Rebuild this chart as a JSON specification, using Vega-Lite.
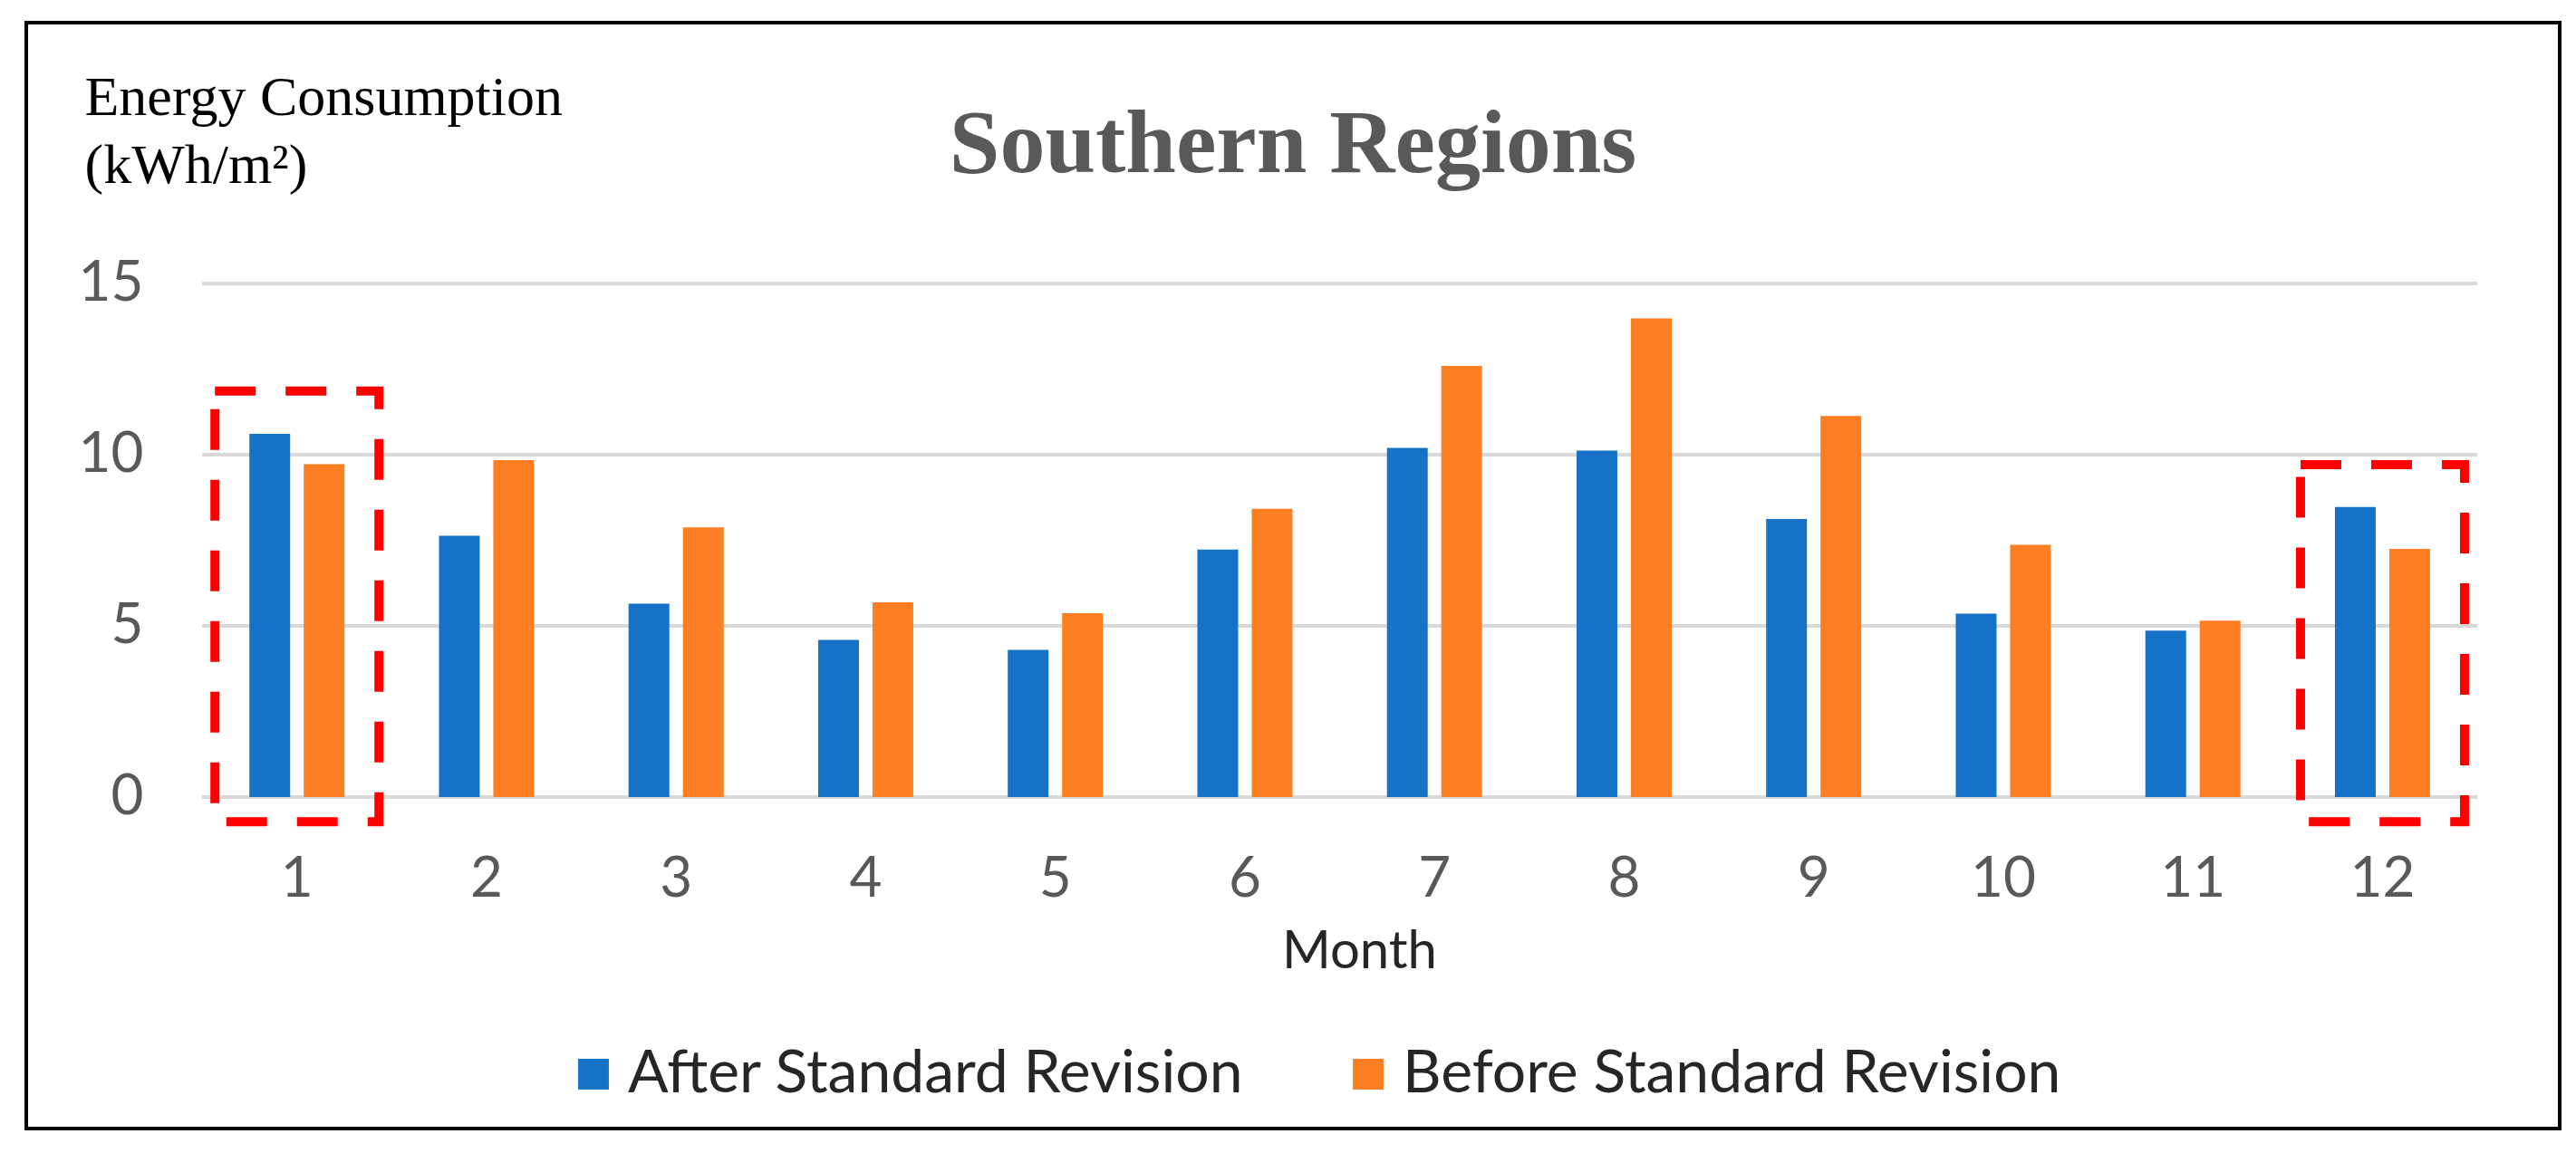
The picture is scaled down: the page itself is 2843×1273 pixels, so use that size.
{
  "$schema": "https://vega.github.io/schema/vega-lite/v6.json",
  "width": 2796,
  "height": 1221,
  "autosize": {"type": "none"},
  "padding": {"left": 29, "top": 25, "right": 18, "bottom": 27},
  "background": "white",
  "config": {"view": {"stroke": "#000000", "strokeWidth": 4, "fill": "white"}},
  "title": {
    "text": "Southern Regions",
    "font": "Liberation Serif",
    "fontSize": 100,
    "fontWeight": "bold",
    "color": "#595959",
    "anchor": "middle",
    "frame": "group",
    "baseline": "alphabetic",
    "offset": -265
  },
  "datasets": {
    "bars": [
      {"month": 1, "series": "After Standard Revision", "value": 10.61},
      {"month": 1, "series": "Before Standard Revision", "value": 9.72},
      {"month": 2, "series": "After Standard Revision", "value": 7.63},
      {"month": 2, "series": "Before Standard Revision", "value": 9.84},
      {"month": 3, "series": "After Standard Revision", "value": 5.65},
      {"month": 3, "series": "Before Standard Revision", "value": 7.88},
      {"month": 4, "series": "After Standard Revision", "value": 4.59},
      {"month": 4, "series": "Before Standard Revision", "value": 5.69},
      {"month": 5, "series": "After Standard Revision", "value": 4.3},
      {"month": 5, "series": "Before Standard Revision", "value": 5.37},
      {"month": 6, "series": "After Standard Revision", "value": 7.23},
      {"month": 6, "series": "Before Standard Revision", "value": 8.42},
      {"month": 7, "series": "After Standard Revision", "value": 10.2},
      {"month": 7, "series": "Before Standard Revision", "value": 12.59},
      {"month": 8, "series": "After Standard Revision", "value": 10.12},
      {"month": 8, "series": "Before Standard Revision", "value": 13.98},
      {"month": 9, "series": "After Standard Revision", "value": 8.12},
      {"month": 9, "series": "Before Standard Revision", "value": 11.13},
      {"month": 10, "series": "After Standard Revision", "value": 5.36},
      {"month": 10, "series": "Before Standard Revision", "value": 7.37},
      {"month": 11, "series": "After Standard Revision", "value": 4.86},
      {"month": 11, "series": "Before Standard Revision", "value": 5.15},
      {"month": 12, "series": "After Standard Revision", "value": 8.47},
      {"month": 12, "series": "Before Standard Revision", "value": 7.25}
    ],
    "grid": [
      {"v": 0, "from": 1, "to": 12},
      {"v": 5, "from": 1, "to": 12},
      {"v": 10, "from": 1, "to": 12},
      {"v": 15, "from": 1, "to": 12}
    ],
    "boxes": [
      {"month": 1, "top": 11.86, "bottom": -0.72},
      {"month": 12, "top": 9.71, "bottom": -0.72}
    ]
  },
  "layer": [
    {
      "data": {"name": "grid"},
      "mark": {"type": "rule", "color": "#D9D9D9", "strokeWidth": 4},
      "encoding": {
        "x": {"field": "from", "type": "ordinal", "bandPosition": 0},
        "x2": {"field": "to", "bandPosition": 1},
        "y": {"field": "v", "type": "quantitative"}
      }
    },
    {
      "data": {"name": "bars"},
      "mark": {"type": "bar"},
      "encoding": {
        "x": {
          "field": "month",
          "type": "ordinal",
          "scale": {"paddingInner": 0, "paddingOuter": 0.681, "align": 0.681},
          "axis": {
            "offset": -366,
            "domain": false,
            "ticks": false,
            "tickSize": 0,
            "grid": false,
            "labelAngle": 0,
            "labelAlign": "center",
            "labelBaseline": "middle",
            "labelPadding": 90,
            "labelFont": "Lato",
            "labelFontSize": 62,
            "labelColor": "#595959",
            "title": "Month",
            "titleFont": "Lato",
            "titleFontSize": 58,
            "titleFontWeight": "normal",
            "titleColor": "#262626",
            "titleAlign": "center",
            "titleBaseline": "alphabetic",
            "titleX": 1471,
            "titleY": 188
          }
        },
        "xOffset": {
          "field": "series",
          "type": "nominal",
          "sort": ["After Standard Revision", "Before Standard Revision"],
          "scale": {"paddingInner": 0.25, "paddingOuter": 0.869}
        },
        "y": {
          "field": "value",
          "type": "quantitative",
          "scale": {"domain": [-9.683, 22.619], "nice": false, "zero": false},
          "axis": {
            "values": [0, 5, 10, 15],
            "offset": -194,
            "domain": false,
            "ticks": false,
            "tickSize": 0,
            "grid": false,
            "labelPadding": 65,
            "labelFont": "Lato",
            "labelFontSize": 62,
            "labelColor": "#595959",
            "title": ["Energy Consumption", "(kWh/m²)"],
            "titleFont": "Liberation Serif",
            "titleFontSize": 62,
            "titleFontWeight": "normal",
            "titleColor": "#000000",
            "titleAngle": 0,
            "titleAlign": "left",
            "titleBaseline": "top",
            "titleX": -130,
            "titleY": 52,
            "titleLineHeight": 75
          }
        },
        "y2": {"datum": 0},
        "color": {
          "field": "series",
          "type": "nominal",
          "scale": {
            "domain": ["After Standard Revision", "Before Standard Revision"],
            "range": ["#1572C8", "#FE7F23"]
          },
          "legend": {
            "orient": "none",
            "legendX": 593,
            "legendY": 1128,
            "direction": "horizontal",
            "title": null,
            "symbolType": "square",
            "symbolSize": 1150,
            "symbolStrokeWidth": 0,
            "labelFont": "Lato",
            "labelFontSize": 66,
            "labelColor": "#262626",
            "labelOffset": 5,
            "labelLimit": 2000,
            "columnPadding": 104,
            "padding": 0
          }
        }
      }
    },
    {
      "data": {"name": "boxes"},
      "mark": {
        "type": "bar",
        "width": {"band": 0.865},
        "filled": false,
        "fill": "transparent",
        "stroke": "#FF0000",
        "strokeWidth": 10,
        "strokeDash": [45, 33]
      },
      "encoding": {
        "x": {"field": "month", "type": "ordinal"},
        "y": {"field": "top", "type": "quantitative"},
        "y2": {"field": "bottom"}
      }
    }
  ]
}
